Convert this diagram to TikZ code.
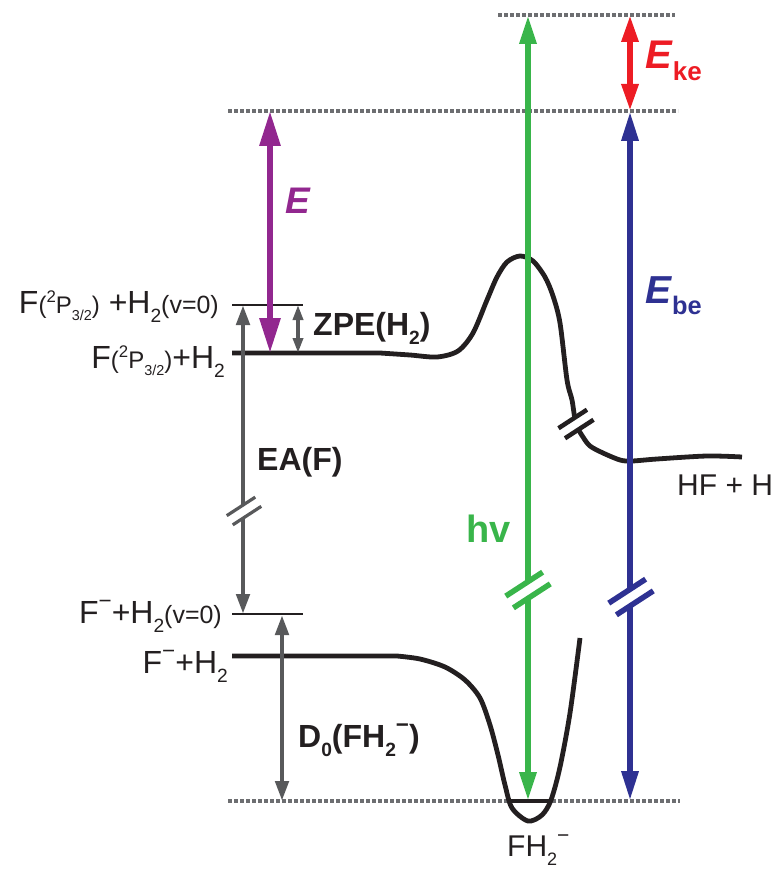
\documentclass[tikz,border=0pt]{standalone}
\usepackage{fontspec}
\setmainfont{Liberation Sans}
\usepackage{graphicx}
\usetikzlibrary{arrows.meta}

\definecolor{lila}{RGB}{146,39,143}
\definecolor{verde}{RGB}{57,181,74}
\definecolor{blu}{RGB}{46,49,146}
\definecolor{rosso}{RGB}{237,28,36}
\definecolor{grigio}{RGB}{88,89,91}
\definecolor{puntini}{RGB}{109,110,113}
\definecolor{nero}{RGB}{35,31,32}

% sub- and superscripts
\newcommand{\lo}[1]{\raisebox{-.3em}{\scalebox{.6}{#1}}}
\newcommand{\loE}[1]{\raisebox{-.3em}{\scalebox{.65}{#1}}}
\newcommand{\hi}[1]{\raisebox{.45em}{\scalebox{.7}{#1}}}
% break marks: position, colour, half length, half gap, line width
\newcommand{\brk}[5]{%
  \begin{scope}[shift={#1},rotate=33]
    \fill[white] (-#3,-#4) rectangle (#3,#4);
    \draw[#2,line width=#5] (-#3,-#4) -- (#3,-#4) (-#3,#4) -- (#3,#4);
  \end{scope}}

\begin{document}
\begin{tikzpicture}[
    x=1pt, y=-1pt,
    lvl/.style={nero, line width=2.7},
    ground/.style={nero, line width=4.5},
    pes/.style={nero, line width=4.8, line join=round},
    dotline/.style={puntini, line width=4, dash pattern=on 3.5 off 2.5},
    dbl/.style n args={2}{{Triangle[length=#1,width=#2]}-{Triangle[length=#1,width=#2]}},
    lab/.style={inner sep=0, text=nero, font=\fontsize{30}{36}\selectfont},
    llab/.style={inner sep=0, text=nero, font=\fontsize{32}{36}\selectfont, anchor=base east},
    blab/.style={inner sep=0, text=nero, font=\fontsize{32}{36}\selectfont\bfseries}
  ]
  \useasboundingbox (0,0) rectangle (778,869);

  % Linee tratteggiate
  \draw[dotline] (498,15) -- (675,15);
  \draw[dotline] (228,111) -- (678,111);
  \draw[dotline] (228,801) -- (680,801);

  % Punti
  \coordinate (ke-top) at (630,15);
  \coordinate (ion) at (630,111);
  \coordinate (be-bot) at (630,801);
  \coordinate (hv-top) at (528,15);
  \coordinate (hv-bot) at (528,801);
  \coordinate (E-top) at (270,111);
  \coordinate (E-bot) at (270,353);
  \coordinate (neu-v0) at (243,305);
  \coordinate (ani-v0) at (243,614);
  \coordinate (zpe-top) at (298,305);
  \coordinate (zpe-bot) at (298,353);
  \coordinate (d0-top) at (282,615);
  \coordinate (d0-bot) at (282,801);

  % Curve
  \draw[pes] (232,353) -- plot[smooth] coordinates {(380,353) (410,355) (437,357) (458,351)
    (473,333) (487,300) (497,277) (507,262) (520,256) (533,261) (545,277) (553,296)
    (560,323) (567,380) (572,400) (576,424) (583,437) (590,446) (603,453) (620,460)
    (632,461) (657,459) (707,456) (742,457)};
  \draw[pes] (232,656) -- plot[smooth] coordinates {(397,656) (420,659) (445,667) (465,680)
    (480,698) (490,725) (498,755) (505,785) (512,808) (528,821) (542,815) (551,800)
    (560,767) (570,713) (580,638)};

  % Livelli
  \draw[lvl] (232,305) -- (303,305);
  \draw[lvl] (232,614) -- (303,614);
  \draw[ground] (232,353) -- (380,353);
  \draw[ground] (232,656) -- (397,656);
  \draw[ground] (507,801) -- (551,801);

  % Frecce
  \draw[lila, line width=6, dbl={35pt}{20pt}] (E-top) -- (E-bot);
  \draw[verde, line width=6.2, dbl={29pt}{16pt}] (hv-top) -- (hv-bot);
  \draw[blu, line width=6.2, dbl={30pt}{16pt}] (ion) -- (be-bot);
  \draw[rosso, line width=6, dbl={27pt}{16pt}] (ke-top) -- (ion);
  \draw[grigio, line width=4.6, dbl={20pt}{13pt}] (neu-v0) -- (ani-v0);
  \draw[grigio, line width=3.5, dbl={15pt}{10pt}] (zpe-top) -- (zpe-bot);
  \draw[grigio, line width=4.6, dbl={20pt}{13pt}] (d0-top) -- (d0-bot);

  % Interruzioni
  \brk{(528,590)}{verde}{22}{7}{5.5}
  \brk{(631,597)}{blu}{22}{7}{5.5}
  \brk{(244,511)}{grigio}{17}{5.5}{3.2}
  \brk{(576,424)}{nero}{17}{6}{4.5}

  % Etichette
  \node[llab] (l-neu-v0) at (219,313) {F\scalebox{.75}{(\hi{2}P\lo{3/2})} +H\lo{2}\scalebox{.78}{(v=0)}};
  \node[llab] (l-neu) at (225,368) {F\scalebox{.75}{(\hi{2}P\lo{3/2})}+H\lo{2}};
  \node[llab] (l-ani-v0) at (222,623) {F\hi{−}+H\lo{2}\scalebox{.78}{(v=0)}};
  \node[llab] (l-ani) at (228,673) {F\hi{−}+H\lo{2}};
  \node[lab, anchor=base west] (l-hf) at (677,495) {HF + H};
  \node[lab, anchor=base west] (l-fh2) at (507,856) {FH\lo{2}\hi{−}};

  \node[blab, anchor=base west] (l-zpe) at (313,335) {ZPE(H\lo{2})};
  \node[blab, anchor=base west] (l-ea) at (257,470) {EA(F)};
  \node[blab, anchor=base west] (l-d0) at (298,747) {D\lo{0}(FH\lo{2}\hi{−})};

  \node[inner sep=0, anchor=base west, text=lila, font=\fontsize{37}{40}\selectfont\bfseries\itshape] (l-E) at (285,213) {E};
  \node[inner sep=0, anchor=base west, text=rosso, font=\fontsize{40}{44}\selectfont\bfseries] (l-ke) at (645,69) {\textit{E}\loE{ke}};
  \node[inner sep=0, anchor=base west, text=blu, font=\fontsize{39}{44}\selectfont\bfseries] (l-be) at (645,303) {\textit{E}\loE{be}};
  \node[inner sep=0, anchor=base west, text=verde, font=\fontsize{38}{44}\selectfont\bfseries] (l-hv) at (466,542) {hv};
\end{tikzpicture}
\end{document}
